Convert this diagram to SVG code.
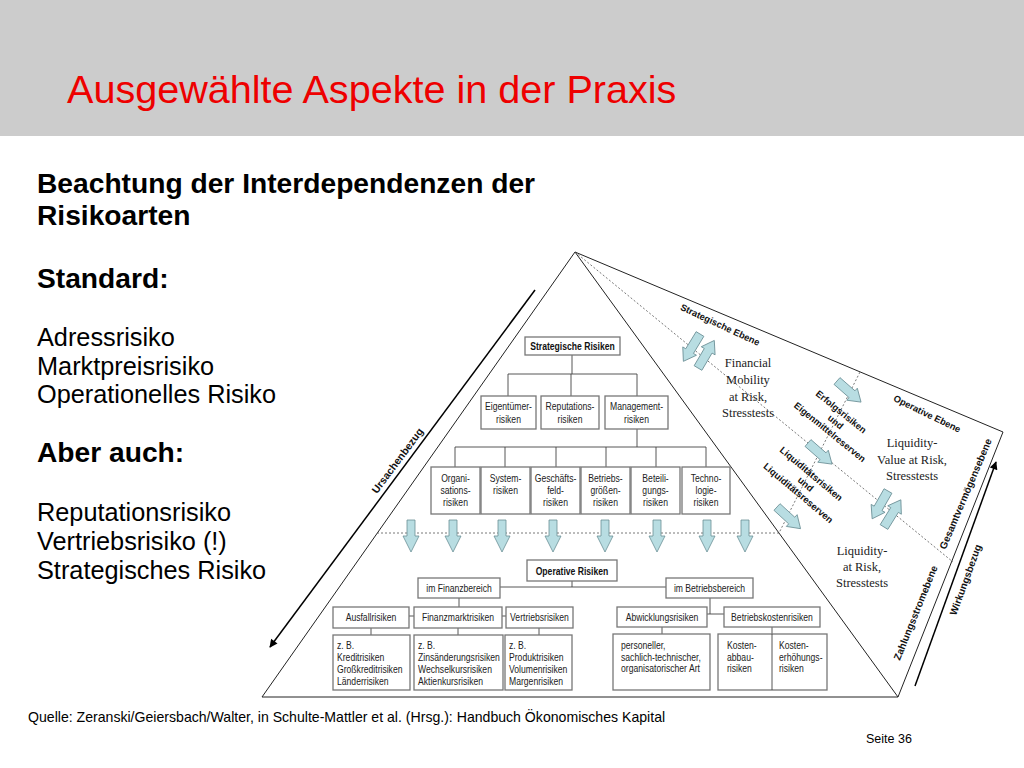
<svg xmlns="http://www.w3.org/2000/svg" width="1024" height="768" viewBox="0 0 1024 768">
<defs>
<style>
.hdr{fill:#cccccc}
.title{font-family:"Liberation Sans",Arial,sans-serif;font-size:39.6px;fill:#ee0000}
.lb{font-family:"Liberation Sans",Arial,sans-serif;font-size:28.2px;font-weight:bold;fill:#000}
.lt{font-family:"Liberation Sans",Arial,sans-serif;font-size:25.3px;fill:#000}
.box{fill:#fff;stroke:#777;stroke-width:1.3}
.bt{font-family:"Liberation Sans",Arial,sans-serif;font-size:10.5px;fill:#222;text-anchor:middle}
.bl{font-family:"Liberation Sans",Arial,sans-serif;font-size:10.5px;fill:#222;text-anchor:start}
.bb{font-family:"Liberation Sans",Arial,sans-serif;font-size:10.5px;font-weight:bold;fill:#111;text-anchor:middle}
.edge{stroke:#222;stroke-width:1;fill:none}
.con{stroke:#444;stroke-width:0.9;fill:none}
.dot{stroke:#555;stroke-width:0.8;stroke-dasharray:2 2;fill:none}
.blk{fill:#b8dde2;stroke:#6b8f95;stroke-width:0.8}
.sl{font-family:"Liberation Sans",Arial,sans-serif;font-weight:bold;fill:#111;text-anchor:middle}
.sr{font-family:"Liberation Serif","Times New Roman",serif;font-size:12.5px;fill:#222;text-anchor:middle}
.foot{font-family:"Liberation Sans",Arial,sans-serif;font-size:14.1px;fill:#000}
.ax{stroke:#000;stroke-width:1.5;fill:none}
</style>
<path id="blk" d="M-4,0 H4 V16 H8 L0,32 L-8,16 H-4 Z"/>
<path id="blk2" d="M-4.5,0 H4.5 V20 H8 L0,32 L-8,20 H-4.5 Z"/>
<marker id="ah" viewBox="0 0 10 10" refX="9" refY="5" markerWidth="10" markerHeight="8" markerUnits="userSpaceOnUse" orient="auto">
<path d="M0,0 L10,5 L0,10 z" fill="#000"/>
</marker>
</defs>

<rect class="hdr" x="0" y="0" width="1024" height="136"/>
<text class="title" x="67" y="103">Ausgewählte Aspekte in der Praxis</text>

<g id="left-text">
<text class="lb" x="37" y="193">Beachtung der Interdependenzen der</text>
<text class="lb" x="37" y="225">Risikoarten</text>
<text class="lb" x="37" y="288">Standard:</text>
<text class="lt" x="37" y="346">Adressrisiko</text>
<text class="lt" x="37" y="375">Marktpreisrisiko</text>
<text class="lt" x="37" y="403">Operationelles Risiko</text>
<text class="lb" x="37" y="462">Aber auch:</text>
<text class="lt" x="37" y="521">Reputationsrisiko</text>
<text class="lt" x="37" y="550">Vertriebsrisiko (!)</text>
<text class="lt" x="37" y="579">Strategisches Risiko</text>
</g>

<g id="pyramid">
<path class="edge" d="M575,252 L262,697 L898,697 Z"/>
<path class="edge" d="M575,252 L1003,432 L898,697"/>
<path class="dot" d="M575,252 L953,562"/>
<path class="dot" d="M377,533 H779 L860,372"/>
</g>

<g id="flow-arrows">
<use href="#blk" class="blk" x="411" y="520"/>
<use href="#blk" class="blk" x="453" y="520"/>
<use href="#blk" class="blk" x="502" y="520"/>
<use href="#blk" class="blk" x="553" y="520"/>
<use href="#blk" class="blk" x="605" y="520"/>
<use href="#blk" class="blk" x="657" y="520"/>
<use href="#blk" class="blk" x="707" y="520"/>
<use href="#blk" class="blk" x="745" y="520"/>
<use href="#blk2" class="blk" transform="translate(700,334) rotate(31.3)"/>
<use href="#blk2" class="blk" transform="translate(698,368) rotate(-149.4)"/>
<use href="#blk2" class="blk" transform="translate(837,381) rotate(-48.7)"/>
<use href="#blk2" class="blk" transform="translate(808,443) rotate(-48.7)"/>
<use href="#blk2" class="blk" transform="translate(777,507) rotate(-47.4)"/>
<use href="#blk2" class="blk" transform="translate(888,491) rotate(29.7)"/>
<use href="#blk2" class="blk" transform="translate(884,527) rotate(-148.2)"/>
</g>

<g id="connectors">
<path class="con" d="M572,355 V374 M508,374 H637 M508,374 V396 M571,374 V396 M637,374 V396"/>
<path class="con" d="M637,429 V447 M455,447 H706 M455,447 V467 M505,447 V467 M556,447 V467 M606,447 V467 M656,447 V467 M706,447 V467"/>
<path class="con" d="M572,581 V587 M500,587 H666 M459,598 V607 M409,616 H506 M371,628 V635 M458,628 V635 M539,628 V635"/>
<path class="con" d="M710,598 V614 M707,614 H724 M662,627 V634 M772,627 V634"/>
</g>

<g id="n-strategische-risiken"><rect class="box" x="525" y="337" width="95" height="18"/><text class="bb" transform="translate(572.5,349.5) scale(.82,1)">Strategische Risiken</text></g>

<g id="n-eigentuemer"><rect class="box" x="481" y="396" width="55" height="33"/><text class="bt" transform="translate(508.5,409.5) scale(.82,1)">Eigentümer-</text><text class="bt" transform="translate(508.5,422.5) scale(.82,1)">risiken</text></g>
<g id="n-reputation"><rect class="box" x="541" y="396" width="58" height="33"/><text class="bt" transform="translate(570,409.5) scale(.82,1)">Reputations-</text><text class="bt" transform="translate(570,422.5) scale(.82,1)">risiken</text></g>
<g id="n-management"><rect class="box" x="605" y="396" width="63" height="33"/><text class="bt" transform="translate(636.5,409.5) scale(.82,1)">Management-</text><text class="bt" transform="translate(636.5,422.5) scale(.82,1)">risiken</text></g>

<g id="n-organisation"><rect class="box" x="431" y="467" width="49" height="47"/><text class="bt" transform="translate(455.5,482) scale(.82,1)">Organi-</text><text class="bt" transform="translate(455.5,494) scale(.82,1)">sations-</text><text class="bt" transform="translate(455.5,506) scale(.82,1)">risiken</text></g>
<g id="n-system"><rect class="box" x="481" y="467" width="49" height="47"/><text class="bt" transform="translate(505.5,482) scale(.82,1)">System-</text><text class="bt" transform="translate(505.5,494) scale(.82,1)">risiken</text></g>
<g id="n-geschaeftsfeld"><rect class="box" x="531" y="467" width="49" height="47"/><text class="bt" transform="translate(555.5,482) scale(.82,1)">Geschäfts-</text><text class="bt" transform="translate(555.5,494) scale(.82,1)">feld-</text><text class="bt" transform="translate(555.5,506) scale(.82,1)">risiken</text></g>
<g id="n-betriebsgroessen"><rect class="box" x="581" y="467" width="49" height="47"/><text class="bt" transform="translate(605.5,482) scale(.82,1)">Betriebs-</text><text class="bt" transform="translate(605.5,494) scale(.82,1)">größen-</text><text class="bt" transform="translate(605.5,506) scale(.82,1)">risiken</text></g>
<g id="n-beteiligung"><rect class="box" x="631" y="467" width="49" height="47"/><text class="bt" transform="translate(655.5,482) scale(.82,1)">Beteili-</text><text class="bt" transform="translate(655.5,494) scale(.82,1)">gungs-</text><text class="bt" transform="translate(655.5,506) scale(.82,1)">risiken</text></g>
<g id="n-technologie"><rect class="box" x="682" y="467" width="48" height="47"/><text class="bt" transform="translate(706,482) scale(.82,1)">Techno-</text><text class="bt" transform="translate(706,494) scale(.82,1)">logie-</text><text class="bt" transform="translate(706,506) scale(.82,1)">risiken</text></g>

<g id="n-operative-risiken"><rect class="box" x="527" y="560" width="90" height="21"/><text class="bb" transform="translate(572,574.5) scale(.82,1)">Operative Risiken</text></g>
<g id="n-finanzbereich"><rect class="box" x="418" y="578" width="82" height="20"/><text class="bt" transform="translate(459,591.5) scale(.82,1)">im Finanzbereich</text></g>
<g id="n-betriebsbereich"><rect class="box" x="666" y="578" width="87" height="20"/><text class="bt" transform="translate(709.5,591.5) scale(.82,1)">im Betriebsbereich</text></g>

<g id="n-ausfall"><rect class="box" x="333" y="607" width="76" height="21"/><text class="bt" transform="translate(371,621) scale(.82,1)">Ausfallrisiken</text></g>
<g id="n-finanzmarkt"><rect class="box" x="414" y="607" width="88" height="21"/><text class="bt" transform="translate(458,621) scale(.82,1)">Finanzmarktrisiken</text></g>
<g id="n-vertrieb"><rect class="box" x="506" y="607" width="67" height="21"/><text class="bt" transform="translate(539.5,621) scale(.82,1)">Vertriebsrisiken</text></g>
<g id="n-abwicklung"><rect class="box" x="617" y="607" width="90" height="20"/><text class="bt" transform="translate(662,620.5) scale(.82,1)">Abwicklungsrisiken</text></g>
<g id="n-betriebskosten"><rect class="box" x="724" y="607" width="96" height="20"/><text class="bt" transform="translate(772,620.5) scale(.82,1)">Betriebskostenrisiken</text></g>

<g id="n-kredit"><rect class="box" x="333" y="635" width="77" height="55"/><text class="bl" transform="translate(337,649) scale(.82,1)">z. B.</text><text class="bl" transform="translate(337,661) scale(.82,1)">Kreditrisiken</text><text class="bl" transform="translate(337,673) scale(.82,1)">Großkreditrisiken</text><text class="bl" transform="translate(337,685) scale(.82,1)">Länderrisiken</text></g>
<g id="n-zins"><rect class="box" x="414" y="635" width="89" height="55"/><text class="bl" transform="translate(418,649) scale(.82,1)">z. B.</text><text class="bl" transform="translate(418,661) scale(.82,1)">Zinsänderungsrisiken</text><text class="bl" transform="translate(418,673) scale(.82,1)">Wechselkursrisiken</text><text class="bl" transform="translate(418,685) scale(.82,1)">Aktienkursrisiken</text></g>
<g id="n-produkt"><rect class="box" x="505" y="635" width="67" height="55"/><text class="bl" transform="translate(509,649) scale(.82,1)">z. B.</text><text class="bl" transform="translate(509,661) scale(.82,1)">Produktrisiken</text><text class="bl" transform="translate(509,673) scale(.82,1)">Volumenrisiken</text><text class="bl" transform="translate(509,685) scale(.82,1)">Margenrisiken</text></g>
<g id="n-personeller"><rect class="box" x="613" y="634" width="97" height="56"/><text class="bl" transform="translate(621,649) scale(.82,1)">personeller,</text><text class="bl" transform="translate(621,660.5) scale(.82,1)">sachlich-technischer,</text><text class="bl" transform="translate(621,672) scale(.82,1)">organisatorischer Art</text></g>
<g id="n-kosten"><rect class="box" x="718" y="634" width="109" height="56"/><path class="con" d="M772,634 V690"/><text class="bl" transform="translate(727,649) scale(.82,1)">Kosten-</text><text class="bl" transform="translate(727,660.5) scale(.82,1)">abbau-</text><text class="bl" transform="translate(727,672) scale(.82,1)">risiken</text><text class="bl" transform="translate(779,649) scale(.82,1)">Kosten-</text><text class="bl" transform="translate(779,660.5) scale(.82,1)">erhöhungs-</text><text class="bl" transform="translate(779,672) scale(.82,1)">risiken</text></g>

<g id="side-labels">
<text class="sl" style="font-size:9.3px" transform="translate(720,325) rotate(25)" y="3">Strategische Ebene</text>
<text class="sl" style="font-size:9.3px" transform="translate(927,414) rotate(26)" y="3">Operative Ebene</text>
<g transform="translate(841,412) rotate(39)" style="font-size:9.3px">
<text class="sl" x="0" y="3">Erfolgsrisiken</text>
<text class="sl" x="2" y="14.4">und</text>
<text class="sl" x="4" y="25.8">Eigenmittelreserven</text>
</g>
<g transform="translate(811,474) rotate(40)" style="font-size:9.5px">
<text class="sl" x="0" y="3">Liquiditätsrisiken</text>
<text class="sl" x="2.5" y="14.5">und</text>
<text class="sl" x="2.5" y="26">Liquiditätsreserven</text>
</g>
<text class="sl" style="font-size:10px" transform="translate(966,494) rotate(-67)" y="3">Gesamtvermögensebene</text>
<text class="sl" style="font-size:10px" transform="translate(916,613) rotate(-68)" y="3">Zahlungsstromebene</text>
<text class="sl" style="font-size:10px" transform="translate(966,580) rotate(-70)" y="3">Wirkungsbezug</text>
<text class="sl" style="font-size:10.5px" transform="translate(398,461) rotate(-53.3)" y="3">Ursachenbezug</text>
<text class="sr" x="748" y="367">Financial</text>
<text class="sr" x="748" y="384">Mobility</text>
<text class="sr" x="748" y="401">at Risk,</text>
<text class="sr" x="748" y="417">Stresstests</text>
<text class="sr" x="912" y="447">Liquidity-</text>
<text class="sr" x="912" y="463.5">Value at Risk,</text>
<text class="sr" x="912" y="480">Stresstests</text>
<text class="sr" x="862" y="555">Liquidity-</text>
<text class="sr" x="862" y="571">at Risk,</text>
<text class="sr" x="862" y="587">Stresstests</text>
</g>

<g id="axis-arrows">
<line class="ax" x1="535" y1="290" x2="270" y2="647" marker-end="url(#ah)"/>
<line class="ax" x1="915" y1="686" x2="996" y2="462" marker-end="url(#ah)"/>
</g>

<text class="foot" x="28" y="722">Quelle: Zeranski/Geiersbach/Walter, in Schulte-Mattler et al. (Hrsg.): Handbuch Ökonomisches Kapital</text>
<text class="foot" x="866" y="743" style="font-size:12.5px">Seite 36</text>
</svg>
